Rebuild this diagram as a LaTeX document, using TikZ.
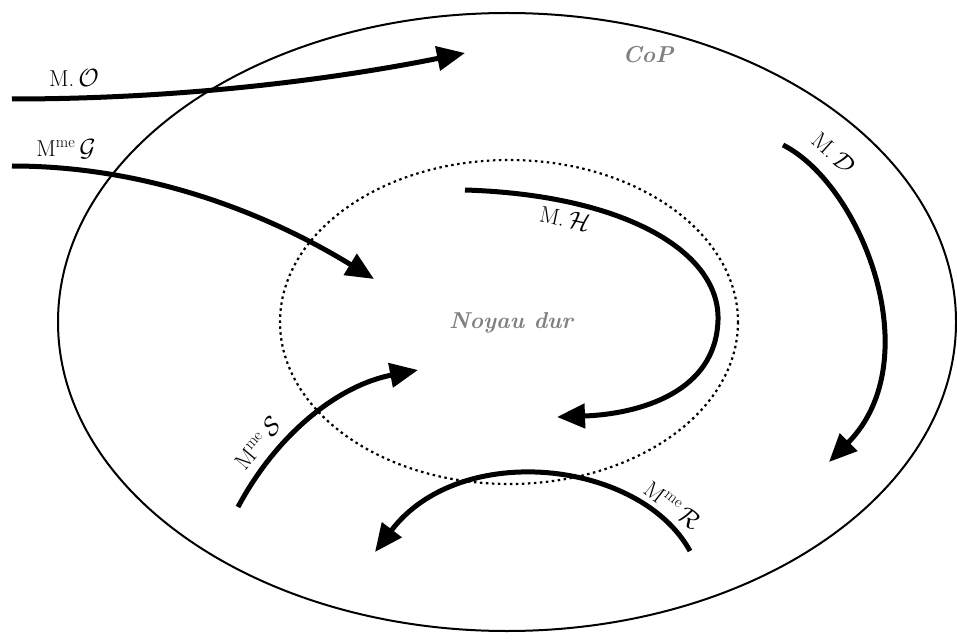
\documentclass[tikz,border=0pt]{standalone}
\usetikzlibrary{arrows.meta}
\begin{document}
\begin{tikzpicture}[x=1pt,y=-1pt,
  every node/.style={font=\fontsize{23}{27}\selectfont},
  flow/.style={line width=5pt,-{Triangle[length=28pt,width=24pt]}},
  lbl/.style={inner sep=1pt},
  glbl/.style={text=black!50,font=\fontsize{23}{27}\selectfont\bfseries\itshape}]
\useasboundingbox (0,0) rectangle (957,644);
% outer CoP ellipse
\draw[line width=2pt] (507,322) ellipse [x radius=449, y radius=309];
% inner dotted ellipse
\draw[line width=2.2pt,dash pattern=on 2.5pt off 3.5pt] (509,322) ellipse [x radius=229, y radius=162];
\node[glbl] (cop) at (648,55) {CoP};
\node[glbl] (noyau) at (511,323) {Noyau dur};
% coordinates
\coordinate (o1) at (12,99);   \coordinate (o2) at (465,53);
\coordinate (g1) at (12,166);  \coordinate (g2) at (374,279);
\coordinate (h1) at (465,190); \coordinate (hm) at (718,320); \coordinate (h2) at (557,417);
\coordinate (d1) at (783,145); \coordinate (d2) at (829,462);
\coordinate (s1) at (238,507); \coordinate (s2) at (418,370);
\coordinate (r1) at (690,551); \coordinate (r2) at (375,552);
% arrows
\draw[flow] (o1) .. controls (180,99) and (330,80) .. (o2);
\draw[flow] (g1) .. controls (150,166) and (270,215) .. (g2);
\draw[flow] (h1) .. controls (625,195) and (720,252) .. (hm) .. controls (716,392) and (640,414) .. (h2);
\draw[flow] (d1) .. controls (862,185) and (930,360) .. (d2);
\draw[flow] (s1) .. controls (278,432) and (340,385) .. (s2);
\draw[flow] (r1) .. controls (640,460) and (460,440) .. (r2);
% labels
\node[lbl] (lo) at (74,78) {M.\,$\mathcal{O}$};
\node[lbl] (lg) at (66,149) {M\textsuperscript{me}\,$\mathcal{G}$};
\node[lbl,rotate=-12] (lh) at (565,218) {M.\,$\mathcal{H}$};
\node[lbl,rotate=-42] (ld) at (834,153) {M.\,$\mathcal{D}$};
\node[lbl,rotate=50] (ls) at (258,443) {M\textsuperscript{me}\,$\mathcal{S}$};
\node[lbl,rotate=-38] (lr) at (673,505) {M\textsuperscript{me}\,$\mathcal{R}$};
\end{tikzpicture}
\end{document}
